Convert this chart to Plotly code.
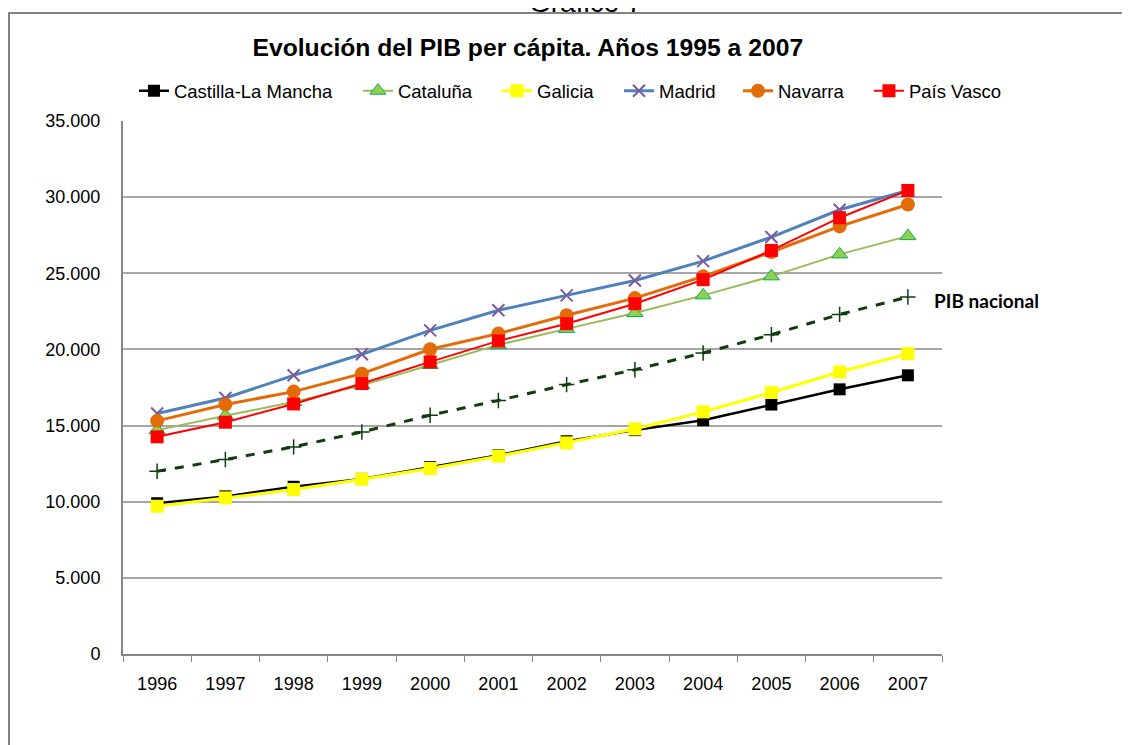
import plotly.graph_objects as go

years = ["1996", "1997", "1998", "1999", "2000", "2001", "2002", "2003", "2004", "2005", "2006", "2007"]

castilla = [9900, 10350, 10980, 11500, 12270, 13050, 13970, 14700, 15350, 16380, 17380, 18300]
cataluna = [14700, 15650, 16550, 17650, 18980, 20300, 21350, 22390, 23550, 24800, 26240, 27440]
galicia = [9700, 10250, 10800, 11480, 12180, 12990, 13860, 14780, 15900, 17170, 18520, 19720]
madrid = [15790, 16810, 18300, 19680, 21250, 22570, 23550, 24530, 25800, 27380, 29170, 30440]
navarra = [15310, 16380, 17230, 18410, 20010, 21040, 22240, 23370, 24800, 26400, 28080, 29520]
pais_vasco = [14260, 15220, 16420, 17760, 19180, 20560, 21690, 23000, 24580, 26500, 28650, 30440]
pib_nacional = [12000, 12770, 13600, 14580, 15680, 16650, 17690, 18670, 19770, 20970, 22300, 23440]

y_ticks = [0, 5000, 10000, 15000, 20000, 25000, 30000, 35000]

fig = go.Figure()

fig.add_trace(go.Scatter(x=years, y=castilla, name="Castilla-La Mancha", mode="lines+markers",
                         legend="legend",
                         line=dict(color="#000000", width=2.5),
                         marker=dict(symbol="square", size=12, color="#000000")))
fig.add_trace(go.Scatter(x=years, y=cataluna, name="Cataluña", mode="lines+markers",
                         legend="legend2",
                         line=dict(color="#9bbb59", width=2),
                         marker=dict(symbol="triangle-up", size=14, color="#92d050",
                                     line=dict(color="#00b050", width=1))))
fig.add_trace(go.Scatter(x=years, y=galicia, name="Galicia", mode="lines+markers",
                         legend="legend3",
                         line=dict(color="#ffff00", width=3),
                         marker=dict(symbol="square", size=13, color="#ffff00")))
fig.add_trace(go.Scatter(x=years, y=madrid, name="Madrid", mode="lines+markers",
                         legend="legend4",
                         line=dict(color="#4f81bd", width=3),
                         marker=dict(symbol="x-thin", size=12, color="#7a5c9e",
                                     line=dict(color="#7a5c9e", width=2))))
fig.add_trace(go.Scatter(x=years, y=navarra, name="Navarra", mode="lines+markers",
                         legend="legend5",
                         line=dict(color="#e36c09", width=3),
                         marker=dict(symbol="circle", size=14, color="#e36c09")))
fig.add_trace(go.Scatter(x=years, y=pais_vasco, name="País Vasco", mode="lines+markers",
                         legend="legend6",
                         line=dict(color="#ff0000", width=2),
                         marker=dict(symbol="square", size=13, color="#ff0000")))
fig.add_trace(go.Scatter(x=years, y=pib_nacional, name="PIB nacional", mode="lines+markers",
                         showlegend=False,
                         line=dict(color="#0f3d0f", width=3, dash="dash"),
                         marker=dict(symbol="cross-thin", size=11, color="#0f3d0f",
                                     line=dict(color="#0f3d0f", width=1.5))))

fig.add_annotation(x=len(years) - 1, y=pib_nacional[-1], xref="x", yref="y",
                   text="<b>PIB nacional</b>", showarrow=False, xanchor="left",
                   xshift=24, yshift=-3,
                   font=dict(family="Lato", size=19, color="#000000"))

fig.add_annotation(x=0.5653, y=1.1886, xref="paper", yref="paper", text="Gráfico 7",
                   showarrow=False, xanchor="center", yanchor="bottom",
                   font=dict(family="Liberation Sans", size=28, color="#000000"))

fig.add_shape(type="rect", xref="paper", yref="paper",
              x0=-0.1392, y0=-0.2, x1=1.25, y1=1.2026,
              line=dict(color="#595959", width=1.5), layer="below")

legend_style = dict(orientation="h", xanchor="left", y=1.056, yanchor="middle",
                    font=dict(family="Liberation Sans", size=18.5, color="#000000"),
                    bgcolor="rgba(0,0,0,0)", itemwidth=30)

fig.update_layout(
    width=1130, height=745,
    margin=dict(l=115, r=196, t=113, b=99),
    paper_bgcolor="white", plot_bgcolor="white",
    separators=",.",
    font=dict(family="Liberation Sans", size=18, color="#000000"),
    title=dict(text="<b>Evolución del PIB per cápita. Años 1995 a 2007</b>",
               x=0.460, xref="container", y=0.9477, yref="container",
               xanchor="center", yanchor="middle",
               font=dict(family="Liberation Sans", size=24.7, color="#000000")),
    legend=dict(x=0.0134, **legend_style),
    legend2=dict(x=0.2869, **legend_style),
    legend3=dict(x=0.4567, **legend_style),
    legend4=dict(x=0.6056, **legend_style),
    legend5=dict(x=0.7509, **legend_style),
    legend6=dict(x=0.9108, **legend_style),
    showlegend=True,
)

fig.update_xaxes(type="category", range=[-0.5, len(years) - 0.5],
                 tickson="boundaries", ticks="outside", ticklen=6,
                 tickcolor="#868686", showline=True, linecolor="#868686", linewidth=2,
                 showgrid=False, ticklabelstandoff=12,
                 tickfont=dict(family="Liberation Sans", size=18, color="#000000"))
fig.update_yaxes(range=[0, 35000], tickvals=y_ticks, tickformat=",d",
                 showline=True, linecolor="#868686", linewidth=2,
                 showgrid=True, gridcolor="#a6a6a6", gridwidth=1.5, zeroline=False,
                 ticks="", ticklabelstandoff=17,
                 tickfont=dict(family="Liberation Sans", size=18, color="#000000"))

fig.write_html("out.html")
